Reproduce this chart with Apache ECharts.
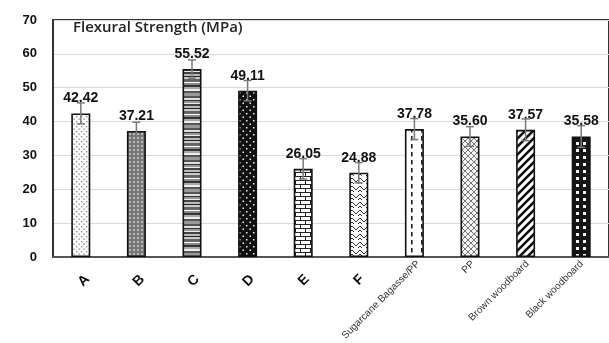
<!DOCTYPE html>
<html><head><meta charset="utf-8">
<script src="https://cdn.jsdelivr.net/npm/echarts@6/dist/echarts.min.js"></script>
<style>html,body{margin:0;padding:0;background:#fff}#c{width:609px;height:343px}</style>
</head><body><div id="c"></div>
<script>
const categories = ['A','B','C','D','E','F','Sugarcane Bagasse/PP','PP','Brown woodboard','Black woodboard'];
const strength = [42.42,37.21,55.52,49.11,26.05,24.88,37.78,35.60,37.57,35.58];
const errors = [3.1,2.6,2.7,3.0,3.0,3.0,3.1,2.9,3.2,3.2];
const yMin = 0, yMax = 70, yInterval = 10;
const titleText = 'Flexural Strength (MPa)';

function pat(w,h,fn){const c=document.createElement('canvas');c.width=w;c.height=h;const g=c.getContext('2d');fn(g,w,h);return {image:c,repeat:'repeat'};}
const patterns = [
  pat(5,5,g=>{g.fillStyle='#fafafa';g.fillRect(0,0,5,5);g.fillStyle='#8a8a8a';g.fillRect(1,1,1.3,1.3);g.fillRect(3.5,3.5,1.3,1.3);}),
  pat(4,4,g=>{g.fillStyle='#767676';g.fillRect(0,0,4,4);g.fillStyle='#b8b8b8';g.fillRect(1,1,2,2);}),
  pat(4,32,g=>{const rows=[['#555',2],['#ddd',2],['#333',1],['#999',2],['#eee',1],['#444',2],['#bbb',2],['#222',1],['#ccc',2],['#666',3],['#fff',1],['#888',2],['#333',2],['#aaa',2],['#eee',2],['#555',2],['#999',3]];let y=0;rows.forEach(r=>{g.fillStyle=r[0];g.fillRect(0,y,4,r[1]);y+=r[1];});}),
  pat(7,7,g=>{g.fillStyle='#111';g.fillRect(0,0,7,7);g.fillStyle='#eee';g.fillRect(1,1,1.5,1.5);g.fillRect(4.5,4.5,1.5,1.5);}),
  pat(10,8,g=>{g.fillStyle='#fff';g.fillRect(0,0,10,8);g.strokeStyle='#222';g.lineWidth=1;g.beginPath();g.moveTo(0,0.5);g.lineTo(10,0.5);g.moveTo(0,4.5);g.lineTo(10,4.5);g.moveTo(0.5,0);g.lineTo(0.5,4.5);g.moveTo(5.5,4.5);g.lineTo(5.5,8);g.stroke();}),
  pat(8,8,g=>{g.fillStyle='#fff';g.fillRect(0,0,8,8);g.strokeStyle='#333';g.lineWidth=1;g.beginPath();g.moveTo(0,2);g.lineTo(4,6);g.lineTo(8,2);g.moveTo(0,6);g.lineTo(2,8);g.moveTo(8,6);g.lineTo(6,8);g.stroke();}),
  pat(10,8,g=>{g.fillStyle='#fff';g.fillRect(0,0,10,8);g.fillStyle='#222';g.fillRect(1,0,1.6,4.5);}),
  pat(6,6,g=>{g.fillStyle='#f4f4f4';g.fillRect(0,0,6,6);g.strokeStyle='#555';g.lineWidth=0.8;g.beginPath();g.moveTo(0,0);g.lineTo(6,6);g.moveTo(6,0);g.lineTo(0,6);g.stroke();}),
  pat(8,8,g=>{g.fillStyle='#fff';g.fillRect(0,0,8,8);g.strokeStyle='#111';g.lineWidth=2.6;g.beginPath();g.moveTo(-1,9);g.lineTo(9,-1);g.moveTo(-5,5);g.lineTo(5,-5);g.moveTo(3,13);g.lineTo(13,3);g.stroke();}),
  pat(7,7,g=>{g.fillStyle='#151515';g.fillRect(0,0,7,7);g.fillStyle='#f2f2f2';g.fillRect(2,2,3,3);})
];

const font = 'Liberation Sans, Arial, sans-serif';
const chart = echarts.init(document.getElementById('c'));
chart.setOption({
  animation:false,
  backgroundColor:'#fff',
  title:{text:titleText,left:73,top:20,padding:0,textStyle:{fontFamily:'Open Sans',fontSize:15,fontWeight:600,color:'#222'}},
  grid:[
    {left:53,width:559,top:20,bottom:86,show:true,borderColor:'#333',borderWidth:2,backgroundColor:'transparent'},
    {left:65,width:559,top:20,bottom:86},
    {left:60,width:559,top:20,bottom:86}
  ],
  xAxis:[
    {gridIndex:0,type:'category',data:categories,axisLine:{lineStyle:{color:'#555',width:2}},axisTick:{show:false},
     axisLabel:{show:false}},
    {gridIndex:1,type:'category',data:categories,axisLine:{show:false},axisTick:{show:false},splitLine:{show:false},
     axisLabel:{interval:0,rotate:45,margin:24,fontFamily:font,fontSize:10,color:'#333',formatter:v=>v.length>1?v:''}},
    {gridIndex:2,type:'category',data:categories,axisLine:{show:false},axisTick:{show:false},splitLine:{show:false},
     axisLabel:{interval:0,rotate:45,margin:20,fontFamily:font,fontSize:14,fontWeight:'bold',color:'#111',formatter:v=>v.length===1?v:''}}
  ],
  yAxis:[
    {gridIndex:0,type:'value',min:yMin,max:yMax,interval:yInterval,
     axisLine:{show:true,lineStyle:{color:'#333',width:2}},axisTick:{show:false},
     axisLabel:{margin:16,fontFamily:font,fontSize:13,fontWeight:'bold',color:'#111'},
     splitLine:{lineStyle:{color:'#d9d9d9',width:1}}},
    {gridIndex:1,type:'value',min:yMin,max:yMax,show:false,splitLine:{show:false}},
    {gridIndex:2,type:'value',min:yMin,max:yMax,show:false,splitLine:{show:false}}
  ],
  series:[
    {type:'bar',xAxisIndex:0,yAxisIndex:0,barWidth:19,
     data:strength.map((v,i)=>({value:v,itemStyle:{color:patterns[i]}})),
     itemStyle:{borderColor:'#111',borderWidth:1.6},
     label:{show:true,position:'top',distance:8,fontFamily:font,fontSize:14,fontWeight:'bold',color:'#111',formatter:p=>p.value.toFixed(2)},
     z:2},
    {type:'custom',xAxisIndex:0,yAxisIndex:0,z:3,
     data:strength.map((v,i)=>[i,v-errors[i],v+errors[i]]),
     encode:{x:0,y:[1,2]},
     renderItem:(params,api)=>{
       const lo=api.coord([api.value(0),api.value(1)]);
       const hi=api.coord([api.value(0),api.value(2)]);
       const hw=4, st={stroke:'#7a7a7a',lineWidth:1.5};
       return {type:'group',children:[
         {type:'line',shape:{x1:lo[0],y1:lo[1],x2:hi[0],y2:hi[1]},style:st},
         {type:'line',shape:{x1:hi[0]-hw,y1:hi[1],x2:hi[0]+hw,y2:hi[1]},style:st},
         {type:'line',shape:{x1:lo[0]-hw,y1:lo[1],x2:lo[0]+hw,y2:lo[1]},style:st}
       ]};
     }}
  ]
});
</script>
</body></html>
